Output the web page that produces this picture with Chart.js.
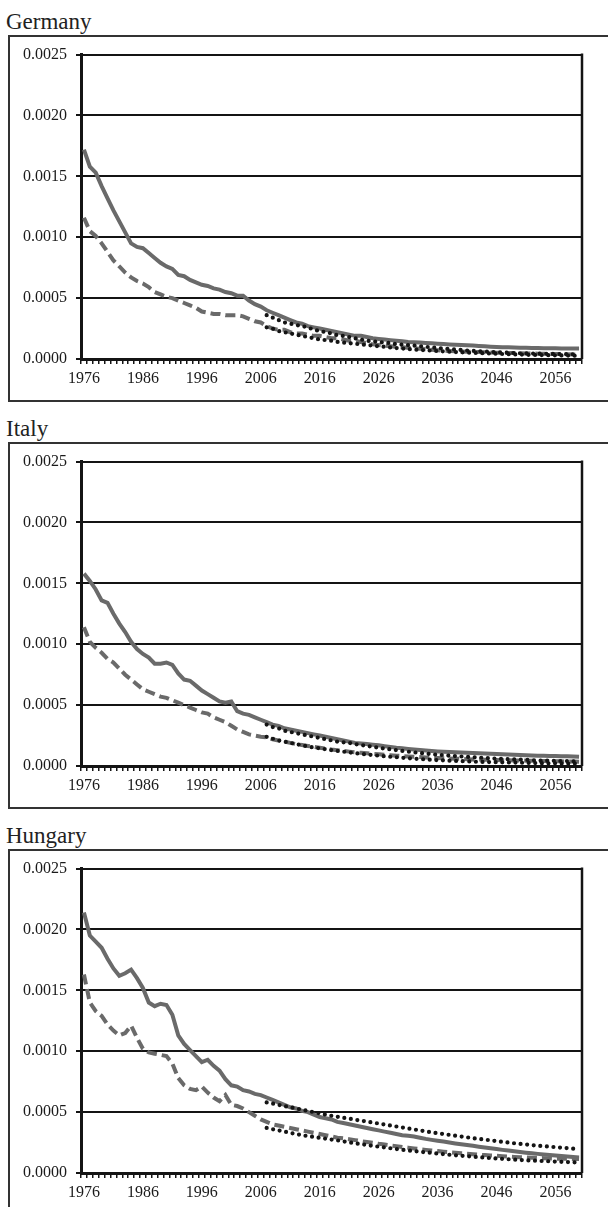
<!DOCTYPE html>
<html>
<head>
<meta charset="utf-8">
<script src="https://cdn.jsdelivr.net/npm/chart.js@4"></script>
<style>
  html, body { margin: 0; padding: 0; background: #fff; overflow: hidden; }
  body { width: 608px; height: 1207px; position: relative; font-family: 'Liberation Serif', 'Times New Roman', serif; }
  .title { position: absolute; left: 6px; font-size: 23px; line-height: 23px; color: #222; }
  .box { position: absolute; left: 8px; width: 640px; height: 363px; border: 2px solid #333; }
  canvas { position: absolute; left: 0; }
</style>
</head>
<body>
<div class="title" style="top:10px">Germany</div>
<div class="box" style="top:35px"></div>
<canvas id="chart-de" width="608" height="364" style="top:36px"></canvas>

<div class="title" style="top:417px">Italy</div>
<div class="box" style="top:442px"></div>
<canvas id="chart-it" width="608" height="364" style="top:443px"></canvas>

<div class="title" style="top:824px">Hungary</div>
<div class="box" style="top:849px"></div>
<canvas id="chart-hu" width="608" height="364" style="top:850px"></canvas>

<script>
// categories: one per year, 1976..2060
const years = [];
for (let y = 1976; y <= 2060; y++) years.push(y);
const labelYears = [1976, 1986, 1996, 2006, 2016, 2026, 2036, 2046, 2056];
const yTicks = [0, 0.0005, 0.001, 0.0015, 0.002, 0.0025];

// forecast lines only start in 2007 (31 empty years before)
const lead = Array(31).fill(null);

// Germany
const deSolid = [
  0.00172, 0.00158, 0.00153, 0.00142, 0.00132, 0.00122, 0.00113, 0.00104, 0.00095, 0.00092,
  0.00091, 0.00087, 0.00083, 0.00079, 0.00076, 0.00074, 0.00069, 0.00068, 0.00065, 0.00063,
  0.00061, 0.00060, 0.00058, 0.00057, 0.00055, 0.00054, 0.00052, 0.00052, 0.00048, 0.00045,
  0.00043, 0.00040, 0.00038, 0.00036, 0.00034, 0.00032, 0.00030, 0.00029, 0.00027, 0.00026,
  0.00025, 0.00024, 0.00023, 0.00022, 0.00021, 0.00020, 0.00019, 0.00019, 0.00018, 0.00017,
  0.000165, 0.00016, 0.000155, 0.00015, 0.000145, 0.00014, 0.000138, 0.000135, 0.000132, 0.00013,
  0.000126, 0.000123, 0.00012, 0.000117, 0.000115, 0.000112, 0.00011, 0.000107, 0.000104, 0.000101,
  0.000099, 0.000097, 0.000096, 0.000094, 0.000093, 0.000092, 0.000091, 0.00009, 0.000089, 0.000088,
  0.000088, 0.000087, 0.000087, 0.000086, 0.000086
];
const deDashed = [
  0.00116, 0.00105, 0.00101, 0.00095, 0.00088, 0.00081, 0.00076, 0.00071, 0.00067, 0.00064,
  0.00062, 0.00059, 0.00055, 0.00053, 0.00051, 0.00050, 0.00048, 0.00046, 0.00044, 0.00042,
  0.00039, 0.00038, 0.00037, 0.00037, 0.00036, 0.00036, 0.00036, 0.00035, 0.00033, 0.00031,
  0.00030, 0.00027, 0.00025, 0.00024, 0.00024, 0.00022, 0.00021, 0.00021, 0.00020, 0.00019,
  0.00019, 0.00018, 0.00017, 0.00017, 0.00016, 0.00015, 0.00015, 0.00014, 0.00013, 0.00012,
  0.000115, 0.00011, 0.000105, 0.0001, 0.000096, 0.000092, 0.000088, 0.000084, 0.00008, 0.000076,
  0.000072, 0.000068, 0.000066, 0.000064, 0.000062, 0.00006, 0.000058, 0.000057, 0.000055, 0.000054,
  0.000052, 0.000051, 0.00005, 0.000049, 0.000047, 0.000046, 0.000045, 0.000044, 0.000043, 0.000042,
  0.000041, 0.00004, 0.000038, 0.000036, 0.000035
];
const deDotA = [
  0.00036, 0.00034, 0.00032, 0.00030, 0.00029, 0.00028, 0.00027, 0.00026, 0.00024, 0.00023,
  0.00022, 0.00021, 0.000195, 0.00019, 0.00018, 0.00017, 0.00016, 0.00015, 0.000145, 0.00014,
  0.000135, 0.00013, 0.000122, 0.000118, 0.000114, 0.00011, 0.000105, 0.0001, 0.000095, 0.00009,
  0.000086, 0.000082, 0.000078, 0.000074, 0.00007, 0.000067, 0.000064, 0.000061, 0.000058, 0.000055,
  0.000053, 0.000051, 0.000049, 0.000047, 0.000046, 0.000045, 0.000044, 0.000043, 0.000042, 0.000041,
  0.00004, 0.00004, 0.000039, 0.000038
];
const deDotB = [
  0.00026, 0.00025, 0.00023, 0.00022, 0.00021, 0.0002, 0.00019, 0.00018, 0.00017, 0.00016,
  0.000155, 0.00015, 0.00014, 0.000135, 0.00013, 0.000125, 0.00012, 0.000115, 0.00011, 0.000105,
  0.0001, 0.000095, 0.00009, 0.000086, 0.000082, 0.000078, 0.000075, 0.000072, 0.000069, 0.000066,
  0.000063, 0.00006, 0.000057, 0.000055, 0.000053, 0.000051, 0.000049, 0.000047, 0.000045, 0.000043,
  0.000041, 0.00004, 0.000038, 0.000037, 0.000035, 0.000034, 0.000033, 0.000032, 0.000031, 0.00003,
  0.000029, 0.000028, 0.000027, 0.000026
];

// Italy
const itSolid = [
  0.00158, 0.00152, 0.00145, 0.00136, 0.00134, 0.00125, 0.00117, 0.00110, 0.00102, 0.00096,
  0.00092, 0.00089, 0.00084, 0.00084, 0.00085, 0.00083, 0.00076, 0.00071, 0.00070, 0.00066,
  0.00062, 0.00059, 0.00056, 0.00053, 0.00052, 0.00053, 0.00045, 0.00043, 0.00042, 0.00040,
  0.00038, 0.00036, 0.00034, 0.00033, 0.00031, 0.00030, 0.00029, 0.00028, 0.00027, 0.00026,
  0.00025, 0.00024, 0.00023, 0.00022, 0.00021, 0.00020, 0.00019, 0.000185, 0.00018, 0.000175,
  0.00017, 0.000163, 0.000157, 0.00015, 0.000145, 0.00014, 0.000136, 0.000132, 0.000128, 0.000124,
  0.00012, 0.000117, 0.000114, 0.000112, 0.00011, 0.000108, 0.000106, 0.000104, 0.000102, 0.0001,
  0.000098, 0.000096, 0.000094, 0.000092, 0.00009, 0.000088, 0.000086, 0.000085, 0.000084, 0.000083,
  0.000082, 0.000081, 0.00008, 0.000078, 0.000076
];
const itDashed = [
  0.00114, 0.00102, 0.00097, 0.00093, 0.00088, 0.00085, 0.00080, 0.00075, 0.00071, 0.00067,
  0.00063, 0.00061, 0.00059, 0.00057, 0.00056, 0.00054, 0.00052, 0.00050, 0.00048, 0.00046,
  0.00044, 0.00043, 0.00040, 0.00038, 0.00036, 0.00033, 0.00030, 0.00028, 0.00026, 0.00025,
  0.00024, 0.000235, 0.00022, 0.00021, 0.0002, 0.00019, 0.00018, 0.000172, 0.000165, 0.000158,
  0.00015, 0.000143, 0.000135, 0.00013, 0.000124, 0.000118, 0.000113, 0.000108, 0.000104, 0.0001,
  0.000096, 0.000092, 0.000088, 0.000085, 0.000082, 0.000079, 0.000076, 0.000073, 0.00007, 0.000068,
  0.000066, 0.000064, 0.000062, 0.00006, 0.000058, 0.000056, 0.000054, 0.000053, 0.000052, 0.00005,
  0.000049, 0.000048, 0.000047, 0.000046, 0.000045, 0.000044, 0.000043, 0.000042, 0.000041, 0.00004,
  0.000039, 0.000038, 0.000037, 0.000036, 0.000035
];
const itDotA = [
  0.00034, 0.00032, 0.00031, 0.00029, 0.00028, 0.00027, 0.00026, 0.00025, 0.00024, 0.00023,
  0.00022, 0.00021, 0.0002, 0.000195, 0.00019, 0.00018, 0.000172, 0.000165, 0.000158, 0.00015,
  0.000143, 0.000137, 0.00013, 0.000124, 0.000118, 0.000112, 0.000107, 0.000102, 0.000097, 0.000093,
  0.000089, 0.000085, 0.000081, 0.000078, 0.000075, 0.000072, 0.000069, 0.000066, 0.000063, 0.00006,
  0.000058, 0.000056, 0.000054, 0.000052, 0.00005, 0.000048, 0.000046, 0.000044, 0.000043, 0.000042,
  0.000041, 0.00004, 0.000039, 0.000038
];
const itDotB = [
  0.00024, 0.000225, 0.00021, 0.0002, 0.00019, 0.00018, 0.00017, 0.00016, 0.000152, 0.000145,
  0.000138, 0.00013, 0.000124, 0.000118, 0.000112, 0.000106, 0.0001, 0.000095, 0.00009, 0.000085,
  0.00008, 0.000076, 0.000072, 0.000068, 0.000064, 0.00006, 0.000057, 0.000054, 0.000051, 0.000048,
  0.000046, 0.000044, 0.000042, 0.00004, 0.000038, 0.000036, 0.000034, 0.000033, 0.000032, 0.000031,
  0.00003, 0.000029, 0.000028, 0.000027, 0.000026, 0.000025, 0.000024, 0.000023, 0.000022, 0.000022,
  0.000021, 0.00002, 0.00002, 0.000019
];

// Hungary
const huSolid = [
  0.00214, 0.00195, 0.00190, 0.00185, 0.00176, 0.00168, 0.00162, 0.00164, 0.00167, 0.00160,
  0.00152, 0.00140, 0.00137, 0.00139, 0.00138, 0.00130, 0.00113, 0.00106, 0.00101, 0.00096,
  0.00091, 0.00093, 0.00088, 0.00084, 0.00077, 0.00072, 0.00071, 0.00068, 0.00067, 0.00065,
  0.00064, 0.00062, 0.00060, 0.00058, 0.00056, 0.00054, 0.00053, 0.00051, 0.00050, 0.00048,
  0.00046, 0.00045, 0.00044, 0.00042, 0.00041, 0.00040, 0.00039, 0.00038, 0.00037, 0.00036,
  0.00035, 0.00034, 0.00033, 0.00032, 0.00031, 0.000305, 0.0003, 0.00029, 0.00028, 0.000272,
  0.000265, 0.000258, 0.00025, 0.000243, 0.000236, 0.00023, 0.000223, 0.000216, 0.00021, 0.000203,
  0.000197, 0.00019, 0.000184, 0.000178, 0.000172, 0.000167, 0.000162, 0.000157, 0.000152, 0.000148,
  0.000144, 0.00014, 0.000136, 0.000132, 0.000128
];
const huDashed = [
  0.00163, 0.00140, 0.00133, 0.00129, 0.00122, 0.00117, 0.00113, 0.00115, 0.00121, 0.00111,
  0.00102, 0.00099, 0.00098, 0.00097, 0.00096, 0.00090, 0.00078, 0.00072, 0.00069, 0.00068,
  0.00071, 0.00066, 0.00062, 0.00059, 0.00064, 0.00056, 0.00055, 0.00053, 0.00050, 0.00047,
  0.00044, 0.00042, 0.00040, 0.00039, 0.00038, 0.00037, 0.00036, 0.00035, 0.00034, 0.00033,
  0.00032, 0.00031, 0.0003, 0.00029, 0.000285, 0.000278, 0.00027, 0.000262, 0.000255, 0.000248,
  0.00024, 0.000234, 0.000227, 0.00022, 0.000214, 0.000208, 0.000202, 0.000196, 0.00019, 0.000185,
  0.00018, 0.000175, 0.00017, 0.000166, 0.000162, 0.000158, 0.000154, 0.00015, 0.000147, 0.000144,
  0.000141, 0.000138, 0.000135, 0.000132, 0.00013, 0.000128, 0.000126, 0.000124, 0.000122, 0.00012,
  0.000118, 0.000117, 0.000116, 0.000115, 0.000114
];
const huDotA = [
  0.00058, 0.00057, 0.00056, 0.00055, 0.00054, 0.00053, 0.00052, 0.00051, 0.0005, 0.00049,
  0.00048, 0.00047, 0.000462, 0.000454, 0.000446, 0.000438, 0.00043, 0.000422, 0.000414, 0.000406,
  0.000398, 0.00039, 0.000382, 0.000374, 0.000366, 0.000358, 0.00035, 0.000342, 0.000334, 0.000326,
  0.00032, 0.000313, 0.000306, 0.0003, 0.000293, 0.000286, 0.00028, 0.000274, 0.000268, 0.000262,
  0.000256, 0.00025, 0.000244, 0.000239, 0.000234, 0.000229, 0.000224, 0.00022, 0.000216, 0.000212,
  0.000208, 0.000204, 0.0002, 0.000196
];
const huDotB = [
  0.00037, 0.00036, 0.00035, 0.00034, 0.00033, 0.00032, 0.00031, 0.000303, 0.000296, 0.000289,
  0.000282, 0.000275, 0.000268, 0.00026, 0.000252, 0.000244, 0.000237, 0.00023, 0.000223, 0.000216,
  0.00021, 0.000203, 0.000197, 0.000191, 0.000185, 0.00018, 0.000175, 0.00017, 0.000165, 0.00016,
  0.000155, 0.00015, 0.000146, 0.000142, 0.000138, 0.000134, 0.00013, 0.000126, 0.000122, 0.000119,
  0.000116, 0.000113, 0.00011, 0.000107, 0.000104, 0.000102, 0.0001, 0.000098, 0.000096, 0.000094,
  0.000092, 0.00009, 0.000088, 0.000086
];

const GRAY = '#6a6a6a';
const INK = '#141414';
const FONT = "'Liberation Serif', 'Times New Roman', serif";

// right-hand edge of the plot area
const plotFrame = {
  id: 'plotFrame',
  afterDraw(chart) {
    const { ctx, chartArea: a } = chart;
    ctx.save();
    ctx.strokeStyle = INK;
    ctx.lineWidth = 2.5;
    ctx.beginPath();
    ctx.moveTo(a.right, a.top - 1);
    ctx.lineTo(a.right, a.bottom);
    ctx.stroke();
    ctx.restore();
  }
};

function makeChart(id, solid, dashed, dotA, dotB) {
  const ctx = document.getElementById(id).getContext('2d');
  return new Chart(ctx, {
    type: 'line',
    data: {
      labels: years,
      datasets: [
        { data: lead.concat(dotA), borderColor: INK, borderWidth: 4.2, borderDash: [0, 6.6], borderCapStyle: 'round', order: 0 },
        { data: lead.concat(dotB), borderColor: INK, borderWidth: 4.2, borderDash: [0, 6.6], borderCapStyle: 'round', order: 0 },
        { data: solid, borderColor: GRAY, borderWidth: 4, order: 1 },
        { data: dashed, borderColor: GRAY, borderWidth: 4, borderDash: [10, 5], order: 1 }
      ]
    },
    options: {
      responsive: false,
      animation: false,
      events: [],
      layout: { padding: { left: 0, right: 26, top: 17, bottom: 0 } },
      elements: { point: { radius: 0 }, line: { tension: 0 } },
      plugins: { legend: { display: false }, tooltip: { enabled: false } },
      scales: {
        x: {
          offset: true,
          grid: { offset: true, drawOnChartArea: false, tickLength: 5, color: INK, lineWidth: 1.5 },
          border: { color: INK, width: 3 },
          ticks: {
            autoSkip: false, maxRotation: 0, padding: 5, color: '#1a1a1a',
            font: { family: FONT, size: 16 },
            callback: (v, i) => labelYears.includes(years[i]) ? String(years[i]) : ''
          },
          afterFit: (s) => { s.height = 41; }
        },
        y: {
          min: 0, max: 0.0025,
          afterBuildTicks: (s) => { s.ticks = yTicks.map(v => ({ value: v })); },
          grid: { color: INK, lineWidth: 2, tickLength: 5 },
          border: { color: INK, width: 3 },
          ticks: {
            padding: 9, color: '#1a1a1a',
            font: { family: FONT, size: 16 },
            callback: (v) => v.toFixed(4)
          },
          afterFit: (s) => { s.width = 81; }
        }
      }
    },
    plugins: [plotFrame]
  });
}

makeChart('chart-de', deSolid, deDashed, deDotA, deDotB);
makeChart('chart-it', itSolid, itDashed, itDotA, itDotB);
makeChart('chart-hu', huSolid, huDashed, huDotA, huDotB);
</script>
</body>
</html>
